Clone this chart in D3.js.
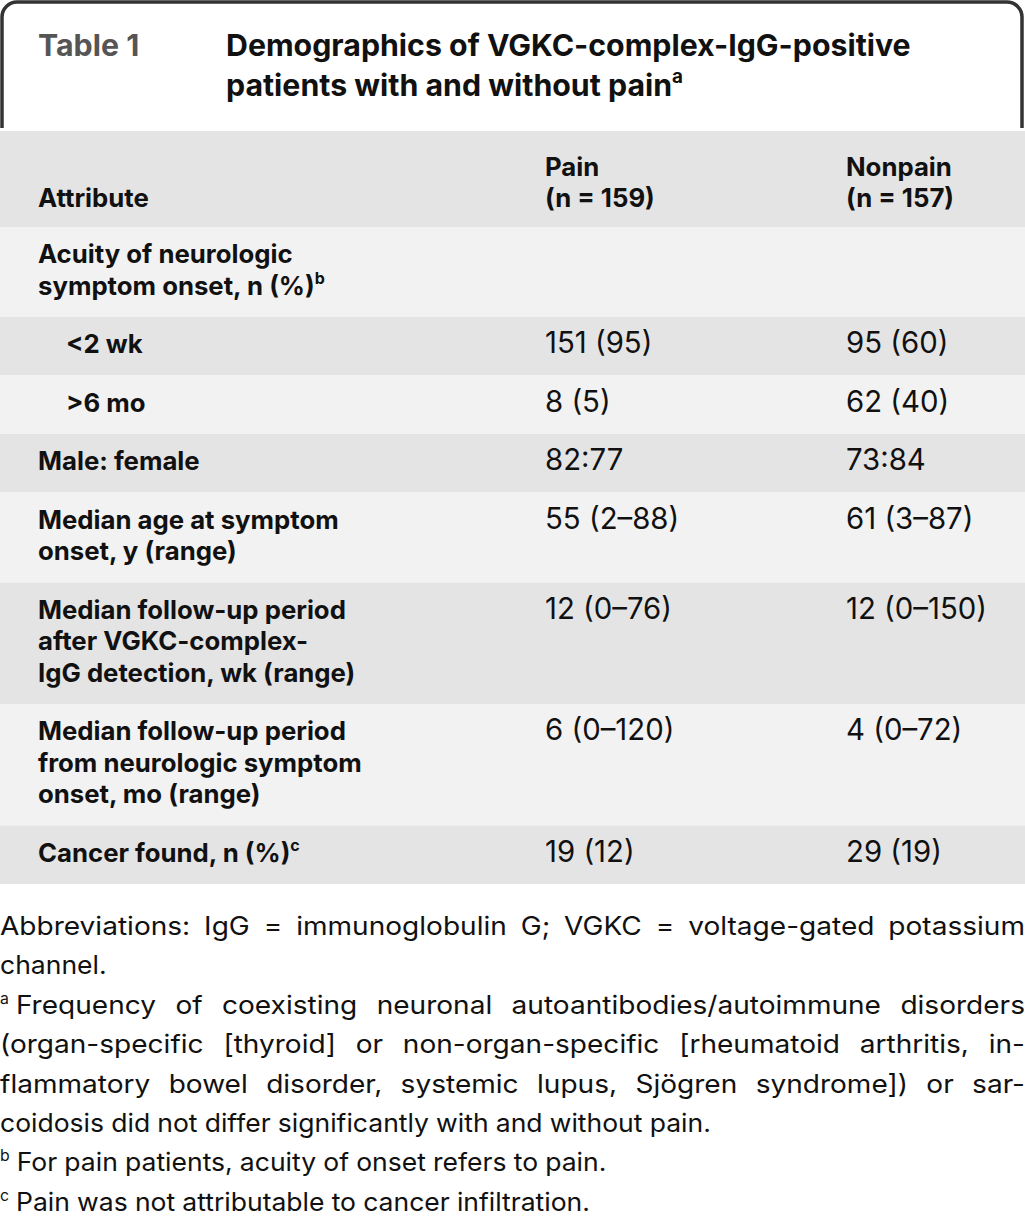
<!DOCTYPE html>
<html>
<head>
<meta charset="utf-8">
<script src="https://cdn.jsdelivr.net/npm/d3@7"></script>
<style>
  html, body { margin: 0; padding: 0; background: #fff; }
  svg { display: block; font-family: Inter, "Open Sans", sans-serif; }
</style>
</head>
<body>
<div id="chart"></div>
<script>
// table content
var tableLabel = "Table 1";
var titleLines = ["Demographics of VGKC-complex-IgG-positive", "patients with and without pain^a"];
var columns = ["Attribute", "Pain", "Nonpain"];
var groupN = [159, 157];

var attributes = [
  ["Acuity of neurologic", "symptom onset, n (%)^b"],
  ["<2 wk"],
  [">6 mo"],
  ["Male: female"],
  ["Median age at symptom", "onset, y (range)"],
  ["Median follow-up period", "after VGKC-complex-", "IgG detection, wk (range)"],
  ["Median follow-up period", "from neurologic symptom", "onset, mo (range)"],
  ["Cancer found, n (%)^c"]
];
var subRows = ["<2 wk", ">6 mo"];
var painValues = ["", "151 (95)", "8 (5)", "82:77", "55 (2–88)", "12 (0–76)", "6 (0–120)", "19 (12)"];
var nonpainValues = ["", "95 (60)", "62 (40)", "73:84", "61 (3–87)", "12 (0–150)", "4 (0–72)", "29 (19)"];

// footnotes, one entry per paragraph, lines as printed
var footnoteMarks = ["", "a", "b", "c"];
var footnotes = [
  ["Abbreviations: IgG = immunoglobulin G; VGKC = voltage-gated potassium", "channel."],
  ["Frequency of coexisting neuronal autoantibodies/autoimmune disorders",
   "(organ-specific [thyroid] or non-organ-specific [rheumatoid arthritis, in-",
   "flammatory bowel disorder, systemic lupus, Sjögren syndrome]) or sar-",
   "coidosis did not differ significantly with and without pain."],
  ["For pain patients, acuity of onset refers to pain."],
  ["Pain was not attributable to cancer infiltration."]
];

var W = 1025, H = 1228;
var svg = d3.select("#chart").append("svg").attr("width", W).attr("height", H);

//Hidden text used to measure strings
var measurer = svg.append("text").attr("x", -999).attr("y", -999).attr("visibility", "hidden");
function measure(str, size, weight) {
  measurer.attr("font-size", size).attr("font-weight", weight).text(str);
  return measurer.node().getComputedTextLength();
}

//Fit font sizes to widths
var titleSize = 27 * 685 / measure(titleLines[0], 27, 700);
var boldSize = 25 * 308 / measure("Median follow-up period", 25, 700);
var regSize = 25 * 141 / measure("12 (0–150)", 25, 400);
var noteSize = 25.5;

//Writes a line that may end with ^sup
function writeLine(sel, str, size) {
  var parts = str.split("^");
  sel.append("tspan").text(parts[0]);
  if (parts[1]) {
    sel.append("tspan").attr("font-size", size * 0.62).attr("dy", -size * 0.42).text(parts[1]);
  }
}

// title box with rounded top corners
svg.append("path")
  .attr("d", "M2,128 V17 A15,15 0 0 1 17,2 H1007 A15,15 0 0 1 1022,17 V128")
  .attr("fill", "none").attr("stroke", "#333").attr("stroke-width", 3.5);

svg.append("text").attr("x", 38).attr("y", 56)
  .attr("font-size", titleSize).attr("font-weight", 700).attr("fill", "#555")
  .text(tableLabel);

titleLines.forEach(function(line, i) {
  var t = svg.append("text").attr("x", 226).attr("y", 56 + i * 40)
    .attr("font-size", titleSize).attr("font-weight", 700).attr("fill", "#111");
  writeLine(t, line, titleSize);
});

// table geometry
var colX = d3.scaleOrdinal().domain(columns).range([38, 545, 846]);
var lineH = 31.5;
function rowHeight(n) { return 27 + lineH * n; }

var headTop = 131, headH = 96;
var rows = attributes.map(function(lines, i) {
  return { lines: lines, pain: painValues[i], nonpain: nonpainValues[i] };
});
var y0 = headTop + headH;
rows.forEach(function(r) {
  r.y = y0;
  r.h = rowHeight(r.lines.length);
  y0 += r.h;
});

// header row
svg.append("rect").attr("x", 0).attr("y", headTop).attr("width", W).attr("height", headH).attr("fill", "#e4e4e4");
var headBase = headTop + 76;
svg.append("text").attr("x", colX(columns[0])).attr("y", headBase)
  .attr("font-size", boldSize).attr("font-weight", 700).attr("fill", "#111").text(columns[0]);
columns.slice(1).forEach(function(c, i) {
  var t = svg.append("text").attr("font-size", boldSize).attr("font-weight", 700).attr("fill", "#111");
  t.append("tspan").attr("x", colX(c)).attr("y", headBase - 31).text(c);
  t.append("tspan").attr("x", colX(c)).attr("y", headBase).text("(n = " + groupN[i] + ")");
});

// body rows
var rowG = svg.selectAll("g.row").data(rows).enter().append("g").attr("class", "row")
  .attr("transform", function(d) { return "translate(0," + d.y + ")"; });

rowG.append("rect")
  .attr("width", W)
  .attr("height", function(d) { return d.h; })
  .attr("fill", function(d, i) { return i % 2 === 0 ? "#f2f2f2" : "#e4e4e4"; });

rowG.each(function(d) {
  var g = d3.select(this);
  var indent = subRows.indexOf(d.lines[0]) >= 0 ? 28 : 0;
  d.lines.forEach(function(line, k) {
    var t = g.append("text").attr("x", colX(columns[0]) + indent).attr("y", 36 + k * lineH)
      .attr("font-size", boldSize).attr("font-weight", 700).attr("fill", "#111");
    writeLine(t, line, boldSize);
  });
  g.append("text").attr("x", colX(columns[1])).attr("y", 36)
    .attr("font-size", regSize).attr("fill", "#111").text(d.pain);
  g.append("text").attr("x", colX(columns[2])).attr("y", 36)
    .attr("font-size", regSize).attr("fill", "#111").text(d.nonpain);
});

// footnotes, justified except for last line of each paragraph
var noteTop = 935, noteStep = 39.4;
var lineNo = 0;
var supSize = noteSize * 0.62;
var space = measure("a a", noteSize, 400) - measure("aa", noteSize, 400);
var notesG = svg.append("g").attr("font-size", noteSize).attr("fill", "#111");

footnotes.forEach(function(para, p) {
  para.forEach(function(line, k) {
    var y = noteTop + lineNo * noteStep;
    var x0 = 0;
    if (k === 0 && footnoteMarks[p]) {
      notesG.append("text").attr("x", 0).attr("y", y - noteSize * 0.4)
        .attr("font-size", supSize).text(footnoteMarks[p]);
      x0 = measure(footnoteMarks[p], supSize, 400) + 7;
    }
    var words = line.split(" ").map(function(w) { return { text: w, w: measure(w, noteSize, 400) }; });
    var natural = d3.sum(words, function(d) { return d.w; });
    var avail = W - x0;
    var last = k === para.length - 1;
    var stretch, gap;
    if (last) {
      stretch = 1.04;
      gap = space;
    } else {
      stretch = (avail - (words.length - 1) * space * 1.3) / natural;
      stretch = Math.max(1, Math.min(1.1, stretch));
      gap = (avail - natural * stretch) / (words.length - 1);
    }
    var x = x0;
    words.forEach(function(d) {
      notesG.append("text").attr("x", x).attr("y", y)
        .attr("textLength", d.w * stretch).attr("lengthAdjust", "spacingAndGlyphs")
        .text(d.text);
      x += d.w * stretch + gap;
    });
    lineNo++;
  });
});
</script>
</body>
</html>
